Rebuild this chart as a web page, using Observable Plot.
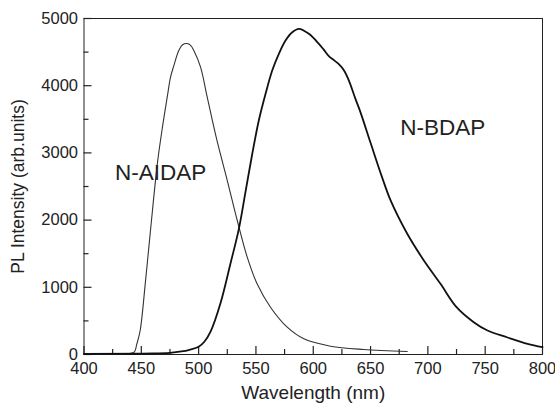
<!DOCTYPE html>
<html>
<head>
<meta charset="utf-8">
<script src="https://cdn.jsdelivr.net/npm/d3@7"></script>
<script src="https://cdn.jsdelivr.net/npm/@observablehq/plot@0.6"></script>
<style>
  html, body { margin: 0; padding: 0; background: #fff; }
  #chart svg { font-family: "Liberation Sans", Arial, sans-serif; }
</style>
</head>
<body>
<div id="chart"></div>
<script>
// N-AIDAP emission
const aidapWl  = [400, 420, 440, 444, 446, 449, 453.7, 458, 464, 468, 472.6, 475.5, 478.4, 482.7, 486, 490, 493, 495.8, 501.7, 507.5, 516, 525, 533.7, 542.4, 551, 562.7, 577.3, 591.8, 615, 644, 682];
const aidapVal = [10, 10, 15, 40, 150, 357, 1100, 1845, 2840, 3333, 3829, 4127, 4300, 4524, 4610, 4628, 4600, 4524, 4276, 3829, 3185, 2589, 1994, 1448, 1052, 704, 406, 233, 124, 74, 45];

// N-BDAP emission
const bdapWl  = [400, 460, 475, 485, 492, 500, 505, 510.4, 519, 527.8, 535.1, 540.9, 546.8, 552.5, 558.4, 564.2, 570, 575.8, 581.7, 587.5, 596.2, 604.9, 609, 613.6, 618, 622.3, 626.7, 631.1, 636.9, 641.3, 650, 660, 667.5, 682, 696.5, 711, 725, 740, 752, 769, 787, 800];
const bdapVal = [10, 15, 25, 45, 70, 115, 190, 340, 759, 1354, 1870, 2420, 2987, 3482, 3880, 4226, 4475, 4673, 4796, 4847, 4772, 4623, 4540, 4440, 4380, 4320, 4230, 4077, 3800, 3600, 3150, 2640, 2292, 1796, 1399, 1052, 704, 481, 357, 257, 159, 109];

// Curve labels
const labelNames = ["N-AIDAP", "N-BDAP"];
const labelWl    = [427, 676];
const labelVal   = [2700, 3380];

// Ticks
const xMajor = [400, 450, 500, 550, 600, 650, 700, 750, 800];
const xMinor = [425, 475, 525, 575, 625, 675, 725, 775];
const yMajor = [0, 1000, 2000, 3000, 4000, 5000];
const yMinor = [500, 1500, 2500, 3500, 4500];

const aidap = aidapWl.map((w, i) => ({w, v: aidapVal[i]}));
const bdap  = bdapWl.map((w, i) => ({w, v: bdapVal[i]}));
const labels = labelNames.map((n, i) => ({n, w: labelWl[i], v: labelVal[i]}));

const ink = "#222";
const W = 555, H = 407, mL = 83.5, mR = 13, mT = 18, mB = 53;
const xDom = [400, 800], yDom = [0, 5000];
// tick lengths (px) converted to data units of the perpendicular scale
const pxY = (yDom[1] - yDom[0]) / (H - mT - mB);
const pxX = (xDom[1] - xDom[0]) / (W - mL - mR);
const majLen = 8, minLen = 5;

const chart = Plot.plot({
  width: W,
  height: H,
  marginLeft: mL,
  marginRight: mR,
  marginTop: mT,
  marginBottom: mB,
  style: {fontFamily: '"Liberation Sans", Arial, sans-serif', color: ink, background: "#fff"},
  x: {domain: xDom},
  y: {domain: yDom},
  marks: [
    Plot.frame({stroke: ink, strokeWidth: 1}),
    // inward ticks
    Plot.ruleX(xMajor, {x: d => d, y1: yDom[0], y2: yDom[0] + majLen * pxY, stroke: ink, strokeWidth: 1.2}),
    Plot.ruleX(xMinor, {x: d => d, y1: yDom[0], y2: yDom[0] + minLen * pxY, stroke: ink, strokeWidth: 1.2}),
    Plot.ruleY(yMajor, {y: d => d, x1: xDom[0], x2: xDom[0] + majLen * pxX, stroke: ink, strokeWidth: 1.2}),
    Plot.ruleY(yMinor, {y: d => d, x1: xDom[0], x2: xDom[0] + minLen * pxX, stroke: ink, strokeWidth: 1.2}),
    // tick labels and titles
    Plot.axisX({ticks: xMajor, tickSize: 0, tickPadding: 8, fontSize: 16.5, tickFormat: d => String(d), label: null}),
    Plot.axisX({ticks: [], label: "Wavelength (nm)", labelAnchor: "center", labelArrow: "none", labelOffset: 44, fontSize: 19}),
    Plot.axisY({ticks: yMajor, tickSize: 0, tickPadding: 6, fontSize: 16.5, tickFormat: d => String(d), label: null}),
    Plot.axisY({ticks: [], label: "PL Intensity (arb.units)", labelAnchor: "center", labelArrow: "none", labelOffset: 72, fontSize: 17.5}),
    // curves
    Plot.line(aidap, {x: "w", y: "v", stroke: "#333", strokeWidth: 1.1, curve: "catmull-rom"}),
    Plot.line(bdap, {x: "w", y: "v", stroke: "#111", strokeWidth: 1.8, curve: "catmull-rom"}),
    Plot.text(labels, {x: "w", y: "v", text: "n", textAnchor: "start", fontSize: 22.5, fill: ink})
  ]
});
document.getElementById("chart").appendChild(chart);
</script>
</body>
</html>
